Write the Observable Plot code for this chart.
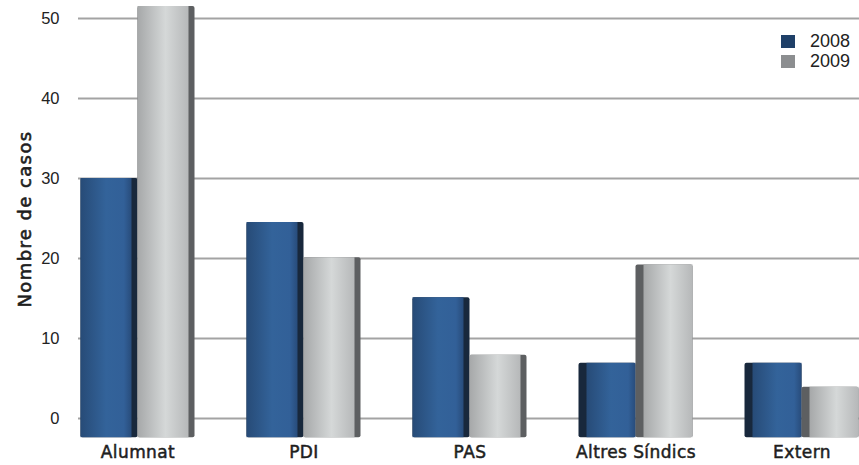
<!DOCTYPE html>
<html><head><meta charset="utf-8">
<script src="https://cdn.jsdelivr.net/npm/d3@7"></script>
<script src="https://cdn.jsdelivr.net/npm/@observablehq/plot@0.6"></script>
<style>
html,body{margin:0;padding:0;background:#fff;}
#wrap{position:relative;width:859px;height:465px;overflow:hidden;}
.legend{position:absolute;left:781px;top:32px;font-family:"Liberation Sans",Arial,sans-serif;font-size:18px;color:#222;}
.legend .row{display:flex;align-items:center;height:19.5px;}
.legend .sw{width:14px;height:13px;margin-right:15px;}
g[aria-label="x-axis tick label"]{stroke:#1e1e1e;stroke-width:0.5px;letter-spacing:0.4px;}
</style></head>
<body><div id="wrap"></div>
<script>
const categories = ["Alumnat", "PDI", "PAS", "Altres Síndics", "Extern"];
const years = ["2008", "2009"];
const values2008 = [30, 24.5, 15.1, 6.9, 6.9];
const values2009 = [51.5, 20.1, 7.9, 19.2, 3.9];
const yTicks = [0, 10, 20, 30, 40, 50];
const yTitle = "Nombre de casos";

const rows08 = categories.map((c, i) => ({category: c, year: years[0], value: values2008[i], i}));
const rows09 = categories.map((c, i) => ({category: c, year: years[1], value: values2009[i], i}));
const base = -2.4;
const rightSide = d => d.i < 3;
const leftSide = d => d.i >= 3;

function bars(rows, dx, sideFill, frontFill) {
  return [
    Plot.barY(rows, {x: "category", y1: base, y2: "value", dx, fill: sideFill, rx: 2}),
    Plot.barY(rows.filter(rightSide), {x: "category", y1: base, y2: "value", dx, insetRight: 6, fill: frontFill}),
    Plot.barY(rows.filter(leftSide), {x: "category", y1: base, y2: "value", dx, insetLeft: 8, fill: frontFill})
  ];
}

const labelFont = "'DejaVu Sans', Verdana, sans-serif";

const chart = Plot.plot({
  width: 859,
  height: 465,
  marginLeft: 78,
  marginRight: 0,
  marginTop: 0,
  marginBottom: 28,
  style: {background: "#fff", fontFamily: "'Liberation Sans', Arial, sans-serif"},
  x: {domain: categories, range: [53.9, 885.2], paddingInner: 0.657, paddingOuter: 0.3285, label: null},
  y: {domain: [0, 50], range: [418, 18], label: null},
  marks: [
    Plot.gridY(yTicks, {stroke: "#a3a3a3", strokeOpacity: 1, strokeWidth: 2}),
    Plot.axisY(yTicks, {tickSize: 0, tickPadding: 19, fontSize: 16.5, fill: "#222", label: null}),
    Plot.axisX({tickSize: 0, tickPadding: 8, fontSize: 17, fontFamily: labelFont, fill: "#1e1e1e", label: null}),
    Plot.text([yTitle], {frameAnchor: "left", textAnchor: "middle", dx: -53, rotate: -90, fontSize: 18, fontFamily: labelFont, fill: "#1e1e1e", stroke: "#1e1e1e", strokeWidth: 0.6, style: "letter-spacing:1.4px"}),
    ...bars(rows08, -28.5, "#18283c", "url(#g08)"),
    ...bars(rows09, 28.5, "#5d5f61", "url(#g09)")
  ]
});

const ns = "http://www.w3.org/2000/svg";
const defs = document.createElementNS(ns, "defs");
function grad(id, stops) {
  const g = document.createElementNS(ns, "linearGradient");
  g.setAttribute("id", id);
  g.setAttribute("x1", "0"); g.setAttribute("x2", "1"); g.setAttribute("y1", "0"); g.setAttribute("y2", "0");
  for (const [o, c] of stops) {
    const s = document.createElementNS(ns, "stop");
    s.setAttribute("offset", o); s.setAttribute("stop-color", c);
    g.appendChild(s);
  }
  defs.appendChild(g);
}
grad("g08", [["0", "#274b77"], ["0.5", "#33639a"], ["0.85", "#326098"], ["1", "#284c7b"]]);
grad("g09", [["0", "#a6a8a9"], ["0.55", "#d5d8d8"], ["1", "#b6b8b9"]]);
chart.insertBefore(defs, chart.firstChild);

// letter-spacing for the y title
const titleText = chart.querySelector('g[aria-label="text"] text');
if (titleText) titleText.style.letterSpacing = "1.4px";

const wrap = document.getElementById("wrap");
wrap.appendChild(chart);
const legend = document.createElement("div");
legend.className = "legend";
const swatches = ["#1f4068", "#8c8e90"];
years.forEach((y, i) => {
  const row = document.createElement("div");
  row.className = "row";
  const sw = document.createElement("div");
  sw.className = "sw";
  sw.style.background = swatches[i];
  const t = document.createElement("span");
  t.textContent = y;
  row.appendChild(sw); row.appendChild(t);
  legend.appendChild(row);
});
wrap.appendChild(legend);
</script>
</body></html>
